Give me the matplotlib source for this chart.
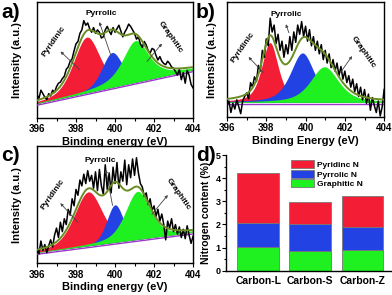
import numpy as np
import matplotlib
matplotlib.use("Agg")
import matplotlib.pyplot as plt
from matplotlib.ticker import MultipleLocator

plt.rcParams['font.family'] = ['Liberation Sans', 'DejaVu Sans']
plt.rcParams['font.weight'] = 'bold'

# ---------------- data ----------------
energy = np.round(np.arange(396.0, 404.01, 0.1), 1)   # measured binding energies (eV)

raw_a = [0.20, 0.17, 0.24, 0.21, 0.18, 0.16, 0.21, 0.19, 0.24, 0.22,
         0.27, 0.30, 0.31, 0.34, 0.36, 0.42, 0.44, 0.49, 0.51, 0.58,
         0.64, 0.66, 0.73, 0.76, 0.84, 0.80, 0.82, 0.77, 0.74, 0.78,
         0.73, 0.76, 0.74, 0.69, 0.70, 0.76, 0.79, 0.75, 0.72, 0.78,
         0.74, 0.77, 0.80, 0.75, 0.70, 0.74, 0.77, 0.81, 0.79, 0.76,
         0.73, 0.68, 0.70, 0.64, 0.61, 0.66, 0.63, 0.58, 0.56, 0.60,
         0.59, 0.54, 0.50, 0.53, 0.49, 0.47, 0.46, 0.49, 0.47, 0.44,
         0.43, 0.40, 0.37, 0.42, 0.33, 0.39, 0.30, 0.41, 0.37, 0.29,
         0.26]
raw_b = [0.10, 0.14, 0.04, 0.12, 0.07, 0.15, 0.09, 0.03, 0.14, 0.18,
         0.21, 0.16, 0.30, 0.26, 0.35, 0.31, 0.45, 0.40, 0.58, 0.52,
         0.68, 0.62, 0.86, 0.74, 0.80, 0.64, 0.72, 0.58, 0.66, 0.52,
         0.63, 0.55, 0.70, 0.58, 0.74, 0.65, 0.80, 0.72, 0.83, 0.70,
         0.79, 0.66, 0.76, 0.62, 0.70, 0.58, 0.66, 0.55, 0.63, 0.50,
         0.58, 0.47, 0.55, 0.43, 0.50, 0.40, 0.47, 0.36, 0.44, 0.33,
         0.40, 0.30, 0.36, 0.26, 0.33, 0.22, 0.29, 0.18, 0.26, 0.15,
         0.24, 0.12, 0.20, 0.06, 0.17, 0.10, 0.04, 0.14, 0.01, 0.09,
         0.24]
raw_c = [0.14, 0.08, 0.19, 0.11, 0.16, 0.09, 0.15, 0.20, 0.14, 0.24,
         0.30, 0.22, 0.35, 0.27, 0.38, 0.33, 0.46, 0.41, 0.55, 0.49,
         0.63, 0.58, 0.71, 0.66, 0.76, 0.68, 0.79, 0.70, 0.75, 0.64,
         0.78, 0.62, 0.80, 0.66, 0.59, 0.84, 0.63, 0.77, 0.60, 0.82,
         0.68, 0.86, 0.64, 0.78, 0.70, 0.88, 0.67, 0.84, 0.73, 0.89,
         0.75, 0.90, 0.77, 0.68, 0.65, 0.57, 0.60, 0.50, 0.55, 0.45,
         0.49, 0.40, 0.46, 0.36, 0.42, 0.33, 0.20, 0.36, 0.30, 0.38,
         0.27, 0.33, 0.25, 0.31, 0.22, 0.29, 0.21, 0.32, 0.24, 0.17,
         0.23]

# linear background (start, end) per panel
bg_a = (0.11, 0.40)
bg_b = (0.113, 0.113)
bg_c = (0.077, 0.25)

# fitted components: (center eV, height, fwhm eV, lorentz fraction)
peaks_a = {'pyridinic': (398.55, 0.48, 1.60, 0.4),
           'pyrrolic': (399.85, 0.30, 1.25, 0.4),
           'graphitic': (401.05, 0.36, 1.60, 0.7)}
peaks_b = {'pyridinic': (398.19, 0.52, 1.00, 0.6),
           'pyrrolic': (399.84, 0.43, 1.45, 0.6),
           'graphitic': (400.96, 0.31, 1.70, 0.6)}
peaks_c = {'pyridinic': (398.63, 0.46, 1.70, 0.4),
           'pyrrolic': (400.00, 0.32, 1.00, 0.3),
           'graphitic': (401.16, 0.41, 1.50, 0.5)}

samples = ['Carbon-L', 'Carbon-S', 'Carbon-Z']
graphitic_n = [1.03, 0.86, 0.91]
pyrrolic_n = [1.03, 1.14, 0.97]
pyridinic_n = [2.17, 0.97, 1.34]

RED = '#f41d36'
BLUE = '#2342e4'
GREEN = '#1ff01f'
OLIVE = '#6a8c22'


def pv(x, c, h, w, eta):
    # pseudo-voigt line shape
    d = (x - c) / w
    return h * (eta / (1 + 4 * d**2) + (1 - eta) * np.exp(-4 * np.log(2) * d**2))


def xps_panel(ax, raw, bg, peaks, notes, xlabel, ylpad):
    e = np.linspace(396, 404, 400)
    base = bg[0] + (bg[1] - bg[0]) * (e - 396) / 8
    total = base.copy()
    for name, col in [('pyridinic', RED), ('pyrrolic', BLUE), ('graphitic', GREEN)]:
        y = pv(e, *peaks[name])
        total += y
        ax.fill_between(e, base + 0.015, base + 0.015 + y, color=col, lw=0, zorder=2)
    ax.plot(e, base, color='#9a36c8', lw=1.0, zorder=3)
    ax.plot(energy, raw, color='black', lw=1.1, zorder=4)
    ax.plot(e, total + 0.015, color=OLIVE, lw=1.4, zorder=5)
    for txt, tpos, rot, p0, p1 in notes:
        ax.text(tpos[0], tpos[1], txt, rotation=rot, ha='center', va='center',
                fontsize=6, fontweight='bold', zorder=6)
        ax.annotate('', xy=p0, xytext=p1,
                    arrowprops=dict(arrowstyle='-|>', color='#444444', lw=0.6,
                                    mutation_scale=4), zorder=6)
    ax.set_xlim(396, 404)
    ax.set_ylim(0, 1)
    ax.set_yticks([])
    ax.xaxis.set_major_locator(MultipleLocator(2))
    ax.xaxis.set_minor_locator(MultipleLocator(1))
    ax.tick_params(axis='x', which='major', length=3, width=0.8, labelsize=7, pad=1.5)
    ax.tick_params(axis='x', which='minor', length=2, width=0.8)
    for lab in ax.get_xticklabels():
        lab.set_fontweight('bold')
    for s in ax.spines.values():
        s.set_linewidth(1.0)
    ax.set_xlabel(xlabel, fontsize=8, fontweight='bold', labelpad=2)
    ax.set_ylabel('Intensity (a.u.)', fontsize=8, fontweight='bold', labelpad=ylpad)


fig = plt.figure(figsize=(3.92, 2.95), dpi=100)

ax_a = fig.add_axes([0.0944, 0.600, 0.398, 0.393])
xps_panel(ax_a, raw_a, bg_a, peaks_a,
          [('Pyridinic', (396.85, 0.66), 55, (397.1, 0.59), (398.3, 0.40)),
           ('Pyrrolic', (399.3, 0.90), 0, (399.15, 0.85), (399.83, 0.52)),
           ('Graphitic', (402.85, 0.70), -55, (402.5, 0.66), (401.55, 0.47))],
          'Binding energy (eV)', 11)

ax_b = fig.add_axes([0.579, 0.603, 0.401, 0.390])
xps_panel(ax_b, raw_b, bg_b, peaks_b,
          [('Pyridinic', (396.8, 0.61), 55, (397.0, 0.54), (397.95, 0.37)),
           ('Pyrrolic', (399.0, 0.89), 0, (398.95, 0.83), (399.2, 0.71)),
           ('Graphitic', (402.95, 0.56), -55, (402.45, 0.55), (401.7, 0.37))],
          'Binding Energy (eV)', 7)

ax_c = fig.add_axes([0.0944, 0.1075, 0.398, 0.3975])
xps_panel(ax_c, raw_c, bg_c, peaks_c,
          [('Pyridinic', (396.8, 0.59), 55, (397.1, 0.53), (398.2, 0.33)),
           ('Pyrrolic', (399.25, 0.88), 0, (399.5, 0.82), (399.9, 0.47)),
           ('Graphitic', (403.25, 0.59), -55, (402.8, 0.60), (401.8, 0.40))],
          'Binding energy (eV)', 11)

ax_d = fig.add_axes([0.5765, 0.0824, 0.4235, 0.392])
x = np.arange(len(samples))
b1 = ax_d.bar(x, graphitic_n, 0.8, color=GREEN, edgecolor='#777777', lw=0.6,
              label='Graphitic N')
b2 = ax_d.bar(x, pyrrolic_n, 0.8, bottom=graphitic_n, color=BLUE,
              edgecolor='#777777', lw=0.6, label='Pyrrolic N')
bot = np.array(graphitic_n) + np.array(pyrrolic_n)
b3 = ax_d.bar(x, pyridinic_n, 0.8, bottom=bot, color=RED, edgecolor='#777777',
              lw=0.6, label='Pyridinc N')
ax_d.set_xlim(-0.62, 2.57)
ax_d.set_ylim(0, 5)
ax_d.set_xticks(x)
ax_d.set_xticklabels(samples, fontsize=7.5, fontweight='bold')
ax_d.tick_params(axis='x', length=0, pad=4)
ax_d.yaxis.set_major_locator(MultipleLocator(1))
ax_d.yaxis.set_minor_locator(MultipleLocator(0.5))
ax_d.tick_params(axis='y', which='major', length=3, width=0.8, labelsize=6.5, pad=1)
ax_d.tick_params(axis='y', which='minor', length=1.5, width=0.8)
for lab in ax_d.get_yticklabels():
    lab.set_fontweight('bold')
for s in ['top', 'right']:
    ax_d.spines[s].set_visible(False)
for s in ['left', 'bottom']:
    ax_d.spines[s].set_linewidth(1.0)
ax_d.set_ylabel('Nitrogen content (%)', fontsize=7.5, fontweight='bold', labelpad=3)
ax_d.legend([b3, b2, b1], ['Pyridinc N', 'Pyrrolic N', 'Graphitic N'],
            loc='upper left', bbox_to_anchor=(0.36, 1.0), frameon=False,
            prop={'size': 6, 'weight': 'bold'}, handlelength=2.8, handleheight=1.1,
            labelspacing=0.1, handletextpad=0.3, borderaxespad=0.2)

for lab, (px, py) in zip(['a)', 'b)', 'c)', 'd)'],
                         [(1, 3), (196, 3), (1, 146), (196, 146)]):
    fig.text(px / 392, 1 - py / 295, lab, fontsize=15, fontweight='bold',
             ha='left', va='top')

fig.savefig('out.png', dpi=100)
